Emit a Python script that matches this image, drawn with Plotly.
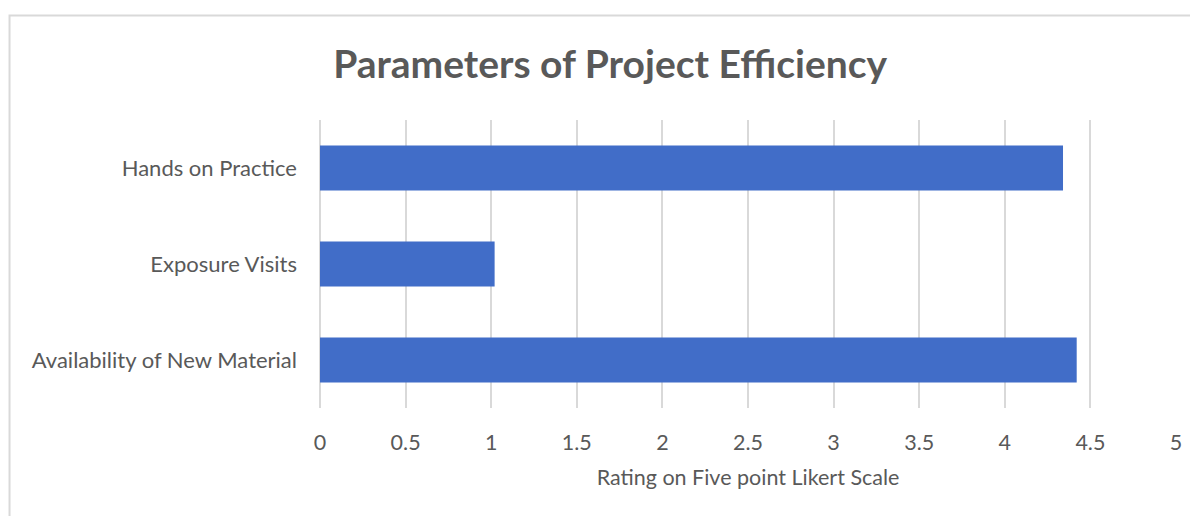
import plotly.graph_objects as go

# Data
categories = ["Availability of New Material", "Exposure Visits", "Hands on Practice"]
ratings = [4.42, 1.02, 4.34]
tick_values = [0, 0.5, 1, 1.5, 2, 2.5, 3, 3.5, 4, 4.5, 5]
tick_labels = ["0", "0.5", "1", "1.5", "2", "2.5", "3", "3.5", "4", "4.5", "5"]

TEXT_GRAY = "#595959"
GRID_GRAY = "#d9d9d9"
BAR_BLUE = "#416dc8"

fig = go.Figure(go.Bar(
    x=ratings,
    y=categories,
    orientation="h",
    width=0.47,
    marker=dict(color=BAR_BLUE, line=dict(width=0)),
    hovertemplate="%{y}: %{x}<extra></extra>",
))

# page body has an 8px margin, so the figure is sized/offset to compensate
fig.update_layout(
    width=1190,
    height=508,
    margin=dict(l=312, r=22, t=112, b=108),
    paper_bgcolor="white",
    plot_bgcolor="white",
    font=dict(family="Lato, Calibri, sans-serif", color=TEXT_GRAY, size=21.5),
    showlegend=False,
    title=dict(
        text="<b>Parameters of Project Efficiency</b>",
        x=0.506, xanchor="center",
        y=0.89, yanchor="middle",
        font=dict(size=39, color=TEXT_GRAY),
    ),
    xaxis=dict(
        range=[0, 5],
        tickvals=tick_values,
        ticktext=tick_labels,
        showgrid=True,
        gridcolor=GRID_GRAY,
        gridwidth=2,
        zeroline=True,
        zerolinecolor=GRID_GRAY,
        zerolinewidth=2,
        showline=False,
        ticks="",
        ticklabelstandoff=19,
        tickfont=dict(size=21.5),
        title=dict(text="Rating on Five point Likert Scale", font=dict(size=21.5), standoff=16),
    ),
    yaxis=dict(
        showgrid=False,
        zeroline=False,
        showline=False,
        ticks="",
        ticklabelstandoff=22,
        tickfont=dict(size=22),
    ),
    shapes=[
        # light chart-area border (top and left edges visible in the reference)
        dict(
            type="rect", xref="paper", yref="paper",
            x0=-0.3627, x1=1.1, y0=-0.6, y1=1.3628,
            line=dict(color="#d9d9d9", width=2),
            fillcolor="rgba(0,0,0,0)",
            layer="below",
        )
    ],
)

fig.write_html("out.html")
